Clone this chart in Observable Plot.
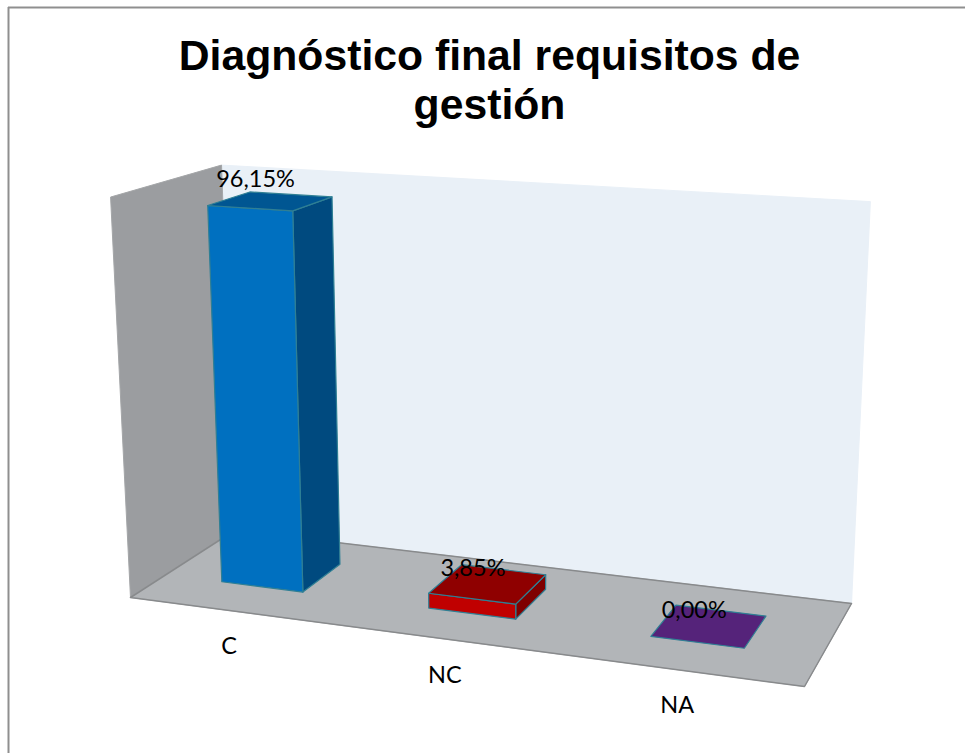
<!DOCTYPE html>
<html><head><meta charset="utf-8">
<style>html,body{margin:0;padding:0;background:#fff}svg{display:block}</style>
<script src="https://cdn.jsdelivr.net/npm/d3@7"></script>
<script src="https://cdn.jsdelivr.net/npm/@observablehq/plot@0.6"></script>
</head><body><div id="chart"></div>
<script>
// ---- data ----
const categories = ["C", "NC", "NA"];
const values = [96.15, 3.85, 0];
const valueLabels = ["96,15%", "3,85%", "0,00%"];
const frontColors = ["#0070c0", "#c00000", "#55237a"];
const topColors = ["#005692", "#8f0000", "#55237a"];
const sideColors = ["#004a7f", "#7f0000", "#55237a"];
const titleLines = ["Diagnóstico final requisitos de", "gestión"];
const axisMax = 100;
const gapWidth = 1.5, gapDepth = 1.5;

// ---- perspective camera, fitted to the box corners (page pixels) ----
const floorQuad = [[130,597],[804,686],[851,603],[234,530]]; // u0d0,u1d0,u1d1,u0d1
const wallTops = [[0,0,110,197],[0,1,221,167],[1,1,870,198]]; // u,d,px,py at full height
const barShiftU = -0.006, barShiftD = 0.02;

function quadMatrix([[x0,y0],[x1,y1],[x2,y2],[x3,y3]]) {
  const dx1=x1-x2, dx2=x3-x2, sx=x0-x1+x2-x3, dy1=y1-y2, dy2=y3-y2, sy=y0-y1+y2-y3;
  const den=dx1*dy2-dx2*dy1;
  const g=(sx*dy2-dx2*sy)/den, h=(dx1*sy-sx*dy1)/den;
  return [x1-x0+g*x1, x3-x0+h*x3, x0, y1-y0+g*y1, y3-y0+h*y3, y0, g, h, 1];
}
const H = quadMatrix(floorQuad);
function solve3(A,b){
  const M=A.map((r,i)=>[...r,b[i]]);
  for(let i=0;i<3;i++){
    let p=i; for(let k=i+1;k<3;k++) if(Math.abs(M[k][i])>Math.abs(M[p][i])) p=k;
    [M[i],M[p]]=[M[p],M[i]];
    for(let k=0;k<3;k++) if(k!==i){const f=M[k][i]/M[i][i]; for(let j=i;j<4;j++) M[k][j]-=f*M[i][j];}
  }
  return M.map((r,i)=>r[3]/r[i]);
}
const rowsA=[], rowsB=[];
for(const [u,d,px,py] of wallTops){
  const X=H[0]*u+H[1]*d+H[2], Y=H[3]*u+H[4]*d+H[5], W=H[6]*u+H[7]*d+H[8];
  rowsA.push([1,0,-px]); rowsB.push(px*W-X);
  rowsA.push([0,1,-py]); rowsB.push(py*W-Y);
}
const AtA=[0,1,2].map(i=>[0,1,2].map(j=>d3.sum(rowsA,r=>r[i]*r[j])));
const Atb=[0,1,2].map(i=>d3.sum(rowsA,(r,k)=>r[i]*rowsB[k]));
const [zx,zy,zw]=solve3(AtA,Atb);
function project(u,d,z){
  const W=H[6]*u+H[7]*d+H[8]+zw*z;
  return [(H[0]*u+H[1]*d+H[2]+zx*z)/W,(H[3]*u+H[4]*d+H[5]+zy*z)/W];
}
function poly(corners){
  const pts=corners.map(c=>project(...c));
  pts.push(pts[0]);
  return pts.map(([x,y])=>({x,y}));
}
function face(corners,fill,stroke,strokeWidth){
  return Plot.line(poly(corners),{x:"x",y:"y",fill,stroke:stroke||fill,strokeWidth:strokeWidth??1,strokeLinejoin:"round",curve:"linear"});
}

// ---- box ----
const marks=[
  face([[0,1,0],[1,1,0],[1,1,1],[0,1,1]],"#e9f0f7","#e9f0f7",1),
  face([[0,0,0],[0,1,0],[0,1,1],[0,0,1]],"#9b9da0","#a4a6a8",1),
  face([[0,0,0],[1,0,0],[1,1,0],[0,1,0]],"#b2b5b8","#b2b5b8",1),
  Plot.line(poly([[0,1,0],[0,0,0],[1,0,0],[1,1,0],[0,1,0]]).slice(0,5),{x:"x",y:"y",stroke:"#888a8c",strokeWidth:1.5})
];

// ---- bars ----
const n=categories.length, catW=1/n, barW=catW/(1+gapWidth), barD=1/(1+gapDepth);
const d0=(1-barD)/2+barShiftD, d1=d0+barD, edge="#2f7f94";
const labelRows=[], catRows=[];
categories.forEach((c,i)=>{
  const u0=(i+.5)*catW-barW/2+barShiftU, u1=u0+barW, z=values[i]/axisMax;
  if(z>0){
    marks.push(face([[u1,d0,0],[u1,d1,0],[u1,d1,z],[u1,d0,z]],sideColors[i],edge,1.2));
    marks.push(face([[u0,d0,0],[u1,d0,0],[u1,d0,z],[u0,d0,z]],frontColors[i],edge,1.2));
  }
  marks.push(face([[u0,d0,z],[u1,d0,z],[u1,d1,z],[u0,d1,z]],topColors[i],edge,1.2));
  const [lx,ly]=project((u0+u1)/2,(d0+d1)/2,z*1.015);
  labelRows.push({x:lx,y:ly,text:valueLabels[i]});
  const [cx,cy]=project((u0+u1)/2,0,0);
  catRows.push({x:cx,y:cy,text:c});
});
const sans="Lato, 'Open Sans', sans-serif";
marks.push(Plot.text(labelRows,{x:"x",y:"y",text:"text",dx:-15,dy:-15.5,fontSize:23.5,fontFamily:sans,fill:"#000"}));
marks.push(Plot.text(catRows,{x:"x",y:"y",text:"text",dx:0,dy:36,fontSize:23.5,fontFamily:sans,fill:"#000"}));
marks.push(Plot.text(titleLines.map((t,i)=>({t,i})),{x:()=>489,y:d=>56+d.i*49,text:"t",fontSize:42.7,fontWeight:"bold",fontFamily:"'Liberation Sans', Arial, sans-serif",fill:"#000"}));
// chart frame
marks.push(Plot.ruleY([7],{x1:8,x2:965,stroke:"#8f8f8f",strokeWidth:2}));
marks.push(Plot.ruleX([8],{y1:7,y2:753,stroke:"#8f8f8f",strokeWidth:2}));

document.getElementById("chart").append(Plot.plot({
  width:965,height:753,margin:0,
  x:{domain:[0,965],range:[0,965],axis:null},
  y:{domain:[0,753],range:[0,753],axis:null},
  marks
}));
</script></body></html>
